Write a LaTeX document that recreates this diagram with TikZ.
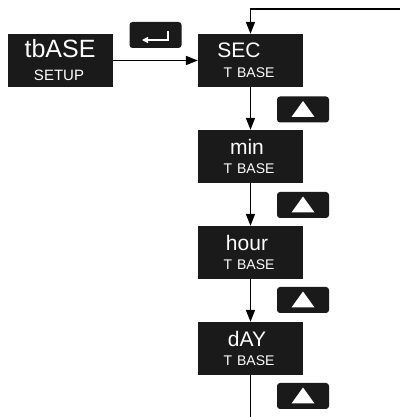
\documentclass[tikz,border=0pt]{standalone}
\usepackage{fontspec}
\setmainfont{Liberation Sans}
\usetikzlibrary{arrows.meta,calc}
\definecolor{lcd}{HTML}{1A1A1A}
\tikzset{
  disp/.style={fill=lcd, draw=none, minimum width=105pt, minimum height=53pt, inner sep=0pt},
  btn/.style={fill=lcd, draw=none, rounded corners=3pt, minimum width=52pt, minimum height=26pt, inner sep=0pt},
  big/.style={text=white, font=\fontsize{21}{21}\selectfont, inner sep=0pt},
  small/.style={text=white, font=\fontsize{14}{14}\selectfont, inner sep=0pt},
  conn/.style={line width=1.8pt, -{Triangle[length=12pt,width=9pt]}},
  plain/.style={line width=1.8pt},
}
\begin{document}
\begin{tikzpicture}[x=1pt,y=1pt]
\useasboundingbox (0,0) rectangle (405,417);
% displays (y measured from top: center yc -> 417-yc)
\node[disp] (tb) at (60.5,356.5) {};
\node[big, font=\fontsize{25}{25}\selectfont] (tbt) at (60,368) {tbASE};
\node[small, font=\fontsize{15}{15}\selectfont] (tbs) at (59,341.5) {SETUP};

\node[disp] (sec) at (250.5,356.5) {};
\node[big] (sect) at (239,366.5) {SEC};
\node[small] (secb) at (249,344) {T\hspace{5pt}BASE};

\node[disp] (min) at (250.5,260.5) {};
\node[big] (mint) at (247,270.5) {min};
\node[small] (minb) at (249,248) {T\hspace{5pt}BASE};

\node[disp] (hour) at (250.5,164.5) {};
\node[big] (hourt) at (247,174.5) {hour};
\node[small] (hourb) at (249,152) {T\hspace{5pt}BASE};

\node[disp] (day) at (250.5,68.5) {};
\node[big] (dayt) at (247,78.5) {dAY};
\node[small] (dayb) at (249,56) {T\hspace{5pt}BASE};

% enter button
\node[btn] (ent) at (155.5,382) {};
\coordinate (e1) at (168,386);
\coordinate (e2) at (168,377);
\coordinate (e3) at (142,377);
\draw[white, line width=1.8pt, -{Triangle[length=6pt,width=6pt]}] (e1) -- (e2) -- (e3);

% up buttons
\foreach \n/\y in {u1/307.5, u2/212, u3/117, u4/21}{
  \node[btn] (\n) at (303,\y) {};
  \fill[white] ($(\n.center)+(-11.5,-7.5)$) -- ($(\n.center)+(11.5,-7.5)$) -- ($(\n.center)+(0,8.5)$) -- cycle;
}

% connectors
\coordinate (tr) at (400,408);
\coordinate (tl) at (sec.north |- tr);
\coordinate (bot) at (250.5,0);
\draw[conn] (tb.east) -- (sec.west);
\draw[conn] (tr) -- (tl) -- (sec.north);
\draw[conn] (sec.south) -- (min.north);
\draw[conn] (min.south) -- (hour.north);
\draw[conn] (hour.south) -- (day.north);
\draw[plain] (day.south) -- (bot);
\end{tikzpicture}
\end{document}
